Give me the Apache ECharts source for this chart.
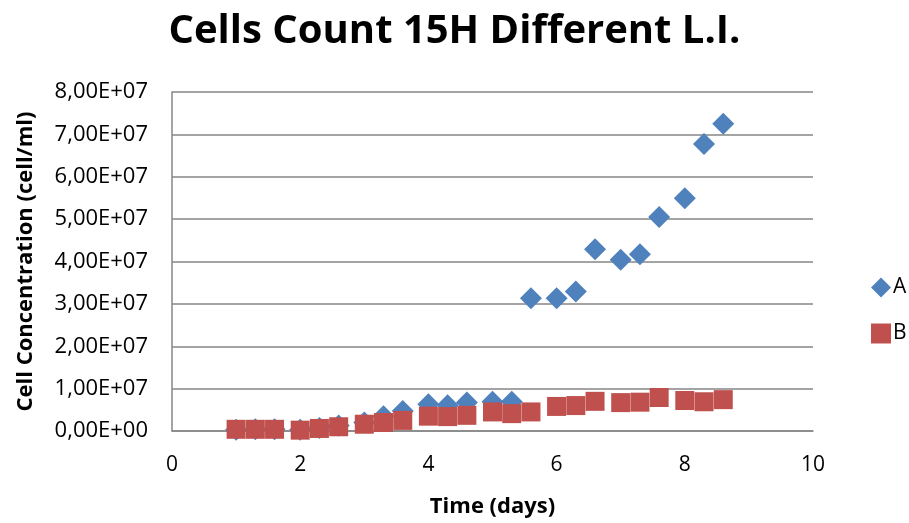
<!DOCTYPE html>
<html>
<head>
<meta charset="utf-8">
<script src="https://cdn.jsdelivr.net/npm/echarts@6/dist/echarts.min.js"></script>
<style>html,body{margin:0;padding:0;background:#fff}#c{width:909px;height:523px}</style>
</head>
<body>
<div id="c"></div>
<script>
const titleText = 'Cells Count 15H Different L.I.';
const xAxisTitle = 'Time (days)';
const yAxisTitle = 'Cell Concentration (cell/ml)';
const seriesNames = ['A', 'B'];
const timeDays = [1.0, 1.3, 1.6, 2.0, 2.3, 2.6, 3.0, 3.3, 3.6, 4.0, 4.3, 4.6, 5.0, 5.3, 5.6, 6.0, 6.3, 6.6, 7.0, 7.3, 7.6, 8.0, 8.3, 8.6];
const seriesA = [0.3e6, 0.4e6, 0.4e6, 0.3e6, 0.7e6, 1.3e6, 2.0e6, 3.5e6, 4.7e6, 6.3e6, 6.1e6, 6.7e6, 6.9e6, 6.9e6, 3.13e7, 3.13e7, 3.29e7, 4.29e7, 4.04e7, 4.17e7, 5.05e7, 5.49e7, 6.77e7, 7.25e7];
const seriesB = [0.4e6, 0.4e6, 0.4e6, 0.2e6, 0.6e6, 1.0e6, 1.6e6, 2.0e6, 2.5e6, 3.5e6, 3.4e6, 3.7e6, 4.5e6, 4.1e6, 4.5e6, 5.8e6, 6.0e6, 7.0e6, 6.7e6, 6.8e6, 7.9e6, 7.2e6, 6.9e6, 7.4e6];
const yTickLabels = ['0,00E+00', '1,00E+07', '2,00E+07', '3,00E+07', '4,00E+07', '5,00E+07', '6,00E+07', '7,00E+07', '8,00E+07'];
const xTickLabels = ['0', '2', '4', '6', '8', '10'];

const font = 'Open Sans';
const chart = echarts.init(document.getElementById('c'), null, {renderer: 'canvas'});
chart.setOption({
  animation: false,
  backgroundColor: '#ffffff',
  title: {
    text: titleText, left: 'center', top: 7,
    textStyle: {fontFamily: font, fontWeight: 'bold', fontSize: 40, color: '#000'}
  },
  legend: {
    orient: 'vertical', left: 866, top: 272, itemGap: 25, itemWidth: 20, itemHeight: 20,
    textStyle: {fontFamily: font, fontSize: 21, color: '#000', padding: [0, 0, 0, -3]},
    data: [{name: seriesNames[0], icon: 'diamond'}, {name: seriesNames[1], icon: 'rect'}]
  },
  grid: {left: 172, right: 96, top: 92, bottom: 91, containLabel: false},
  xAxis: {
    type: 'value', min: 0, max: 10, interval: 2,
    name: xAxisTitle, nameLocation: 'middle', nameGap: 65,
    nameTextStyle: {fontFamily: font, fontWeight: 'bold', fontSize: 22, color: '#000'},
    axisLine: {show: true, lineStyle: {color: '#868686', width: 1.5}},
    axisTick: {show: false},
    splitLine: {show: false},
    axisLabel: {fontFamily: font, fontSize: 21, color: '#000', margin: 24,
      formatter: v => xTickLabels[Math.round(v / 2)]}
  },
  yAxis: {
    type: 'value', min: 0, max: 8e7, interval: 1e7,
    name: yAxisTitle, nameLocation: 'middle', nameGap: 135, nameRotate: 90,
    nameTextStyle: {fontFamily: font, fontWeight: 'bold', fontSize: 22, color: '#000'},
    axisLine: {show: true, lineStyle: {color: '#868686', width: 1.5}},
    axisTick: {show: false},
    splitLine: {show: true, lineStyle: {color: '#868686', width: 1.5}},
    axisLabel: {fontFamily: font, fontSize: 22, color: '#000', margin: 24,
      formatter: v => yTickLabels[Math.round(v / 1e7)]}
  },
  series: [
    {name: seriesNames[0], type: 'scatter', symbol: 'diamond', symbolSize: 22,
     itemStyle: {color: '#4f81bd', opacity: 1},
     data: timeDays.map((t, i) => [t, seriesA[i]])},
    {name: seriesNames[1], type: 'scatter', symbol: 'rect', symbolSize: 19,
     itemStyle: {color: '#c0504d', opacity: 1},
     data: timeDays.map((t, i) => [t, seriesB[i]])}
  ]
});
</script>
</body>
</html>
